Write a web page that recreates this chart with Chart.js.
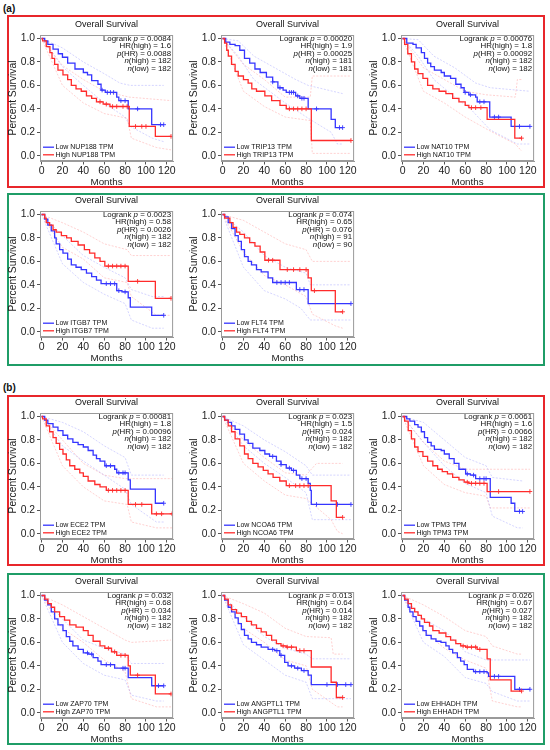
<!DOCTYPE html>
<html>
<head>
<meta charset="utf-8">
<script src="https://cdn.jsdelivr.net/npm/chart.js@4.4.0/dist/chart.umd.min.js"></script>
<style>
  body { margin: 0; width: 550px; height: 750px; background: #fff; position: relative; overflow: hidden; font-family: "Liberation Sans", Arial, sans-serif; }
  .box { position: absolute; border: 2px solid; box-sizing: border-box; }
  .red { border-color: #e8262b; }
  .green { border-color: #1f9d67; }
  .lbl { position: absolute; font-weight: bold; font-size: 10px; color: #111; }
  canvas { position: absolute; }
</style>
</head>
<body>
<div class="lbl" style="left:3px;top:3px">(a)</div>
<div class="box red" style="left:7px;top:15px;width:538px;height:173px"></div>
<div class="box green" style="left:7px;top:193px;width:538px;height:173px"></div>
<div class="lbl" style="left:3px;top:382px">(b)</div>
<div class="box red" style="left:7px;top:395px;width:538px;height:171px"></div>
<div class="box green" style="left:7px;top:573px;width:538px;height:172px"></div>

<script>
// ---- data ----
const genes    = ['NUP188', 'TRIP13', 'NAT10', 'ITGB7', 'FLT4', 'ECE2', 'NCOA6', 'TPM3', 'ZAP70', 'ANGPTL1', 'EHHADH'];
const logrankP = ['0.0084', '0.00020', '0.00076', '0.0023', '0.074', '0.00081', '0.023', '0.0061', '0.032', '0.013', '0.026'];
const hrHigh   = ['1.6', '1.9', '1.8', '0.58', '0.65', '1.8', '1.5', '1.6', '0.68', '0.64', '0.67'];
const pHR      = ['0.0088', '0.00025', '0.00092', '0.0026', '0.076', '0.00096', '0.024', '0.0066', '0.034', '0.014', '0.027'];
const nHigh    = [182, 181, 182, 182, 91, 182, 182, 182, 182, 182, 182];
const nLow     = [182, 181, 182, 182, 90, 182, 182, 182, 182, 182, 182];

const xTicks = [0, 20, 40, 60, 80, 100, 120];
const yTicks = [0, 0.2, 0.4, 0.6, 0.8, 1.0];

// survival steps [month, survival]
const nup188Low  = [[0,1],[3,0.98],[6,0.95],[11,0.91],[16,0.87],[20,0.84],[25,0.79],[32,0.74],[40,0.71],[44,0.69],[48,0.64],[54,0.61],[57,0.56],[61,0.54],[72,0.50],[74,0.47],[83,0.40],[105.5,0.265],[117,0.265]];
const nup188High = [[0,1],[1,0.98],[4.5,0.93],[8,0.88],[10,0.83],[12.5,0.78],[15.7,0.73],[20.5,0.69],[25,0.65],[28.5,0.60],[33,0.57],[38,0.55],[43,0.51],[48,0.49],[52.6,0.46],[59,0.44],[65.5,0.42],[84,0.25],[109,0.165],[124,0.165]];
const trip13Low  = [[0,1],[3,0.97],[7,0.95],[12,0.94],[16.5,0.90],[21,0.83],[26,0.79],[31,0.74],[36,0.71],[42,0.67],[48,0.63],[53,0.58],[58,0.56],[61,0.54],[70,0.51],[74,0.49],[82,0.40],[104,0.31],[108,0.24],[115,0.24]];
const trip13High = [[0,1],[2,0.96],[4,0.90],[5.5,0.85],[8.6,0.78],[12,0.72],[15,0.68],[20,0.65],[24.5,0.62],[28,0.57],[32.5,0.55],[40.5,0.51],[47,0.47],[55,0.43],[61,0.40],[85,0.13],[123,0.13]];
const nat10Low   = [[0,1],[4,0.96],[10,0.95],[13,0.92],[18,0.88],[21,0.83],[24,0.79],[27,0.76],[30.5,0.73],[37,0.71],[40,0.68],[46,0.66],[51,0.61],[56,0.58],[59,0.54],[63.5,0.52],[70,0.50],[71.5,0.46],[83.5,0.33],[104,0.25],[122,0.25]];
const nat10High  = [[0,1],[2,0.95],[5,0.87],[8.5,0.80],[11.6,0.74],[14.8,0.70],[19.5,0.66],[24,0.60],[29,0.57],[35,0.55],[41.5,0.53],[48,0.49],[54,0.46],[60,0.43],[63.5,0.41],[81,0.31],[107.5,0.15],[114,0.15]];
const itgb7Low   = [[0,1],[3,0.96],[6,0.91],[9.3,0.86],[12.5,0.80],[14,0.75],[17.3,0.70],[20.5,0.67],[25,0.62],[28.5,0.57],[33,0.55],[38,0.53],[43,0.50],[48,0.47],[52.6,0.44],[57,0.41],[72,0.35],[77,0.34],[83,0.29],[85,0.21],[105.5,0.14],[117,0.14]];
const itgb7High  = [[0,1],[3,0.97],[4.5,0.93],[7.7,0.91],[11,0.87],[14,0.85],[19,0.82],[24,0.80],[28.5,0.77],[35,0.74],[41,0.70],[46,0.67],[51,0.63],[56,0.60],[60.6,0.56],[83,0.43],[109,0.285],[124,0.285]];
const flt4Low    = [[0,1],[2,0.98],[5.4,0.93],[8.6,0.88],[12,0.82],[15,0.77],[18,0.70],[21,0.64],[24.5,0.60],[27.7,0.57],[32.5,0.53],[37,0.51],[43.6,0.46],[48,0.42],[70.7,0.36],[82,0.24],[123,0.24]];
const flt4High   = [[0,1],[2,0.97],[7,0.93],[10,0.89],[13.4,0.85],[16.5,0.83],[21,0.80],[26,0.76],[31,0.73],[36,0.68],[40.5,0.61],[55,0.53],[82,0.46],[85,0.35],[108,0.17],[115,0.17]];
const ece2Low    = [[0,1],[3,0.97],[6,0.94],[11,0.91],[15.7,0.88],[20.5,0.84],[25,0.81],[30,0.78],[35,0.76],[40,0.74],[44.6,0.71],[49.4,0.67],[52.6,0.64],[56,0.62],[60.6,0.58],[70,0.55],[72,0.52],[83,0.46],[85,0.38],[109,0.26],[117,0.26]];
const ece2High   = [[0,1],[1,0.98],[4.5,0.92],[7.7,0.87],[11,0.82],[14,0.77],[17.3,0.72],[20.5,0.68],[23.7,0.63],[27,0.58],[31.8,0.55],[36.6,0.52],[40,0.49],[44.6,0.45],[51,0.42],[56,0.40],[62,0.37],[83,0.25],[105.5,0.17],[125,0.17]];
const ncoa6Low   = [[0,1],[2,0.97],[5.4,0.95],[8.6,0.92],[12,0.89],[16.5,0.85],[21,0.80],[24.5,0.77],[29,0.73],[35.7,0.71],[40.5,0.68],[45,0.66],[51.6,0.62],[56,0.59],[61,0.56],[66,0.54],[70.7,0.50],[74,0.47],[82,0.43],[84,0.37],[85,0.25],[123,0.25]];
const ncoa6High  = [[0,1],[2,0.97],[5.4,0.92],[8.6,0.87],[12,0.81],[16.5,0.75],[21,0.68],[24.5,0.64],[29,0.60],[34,0.57],[39,0.54],[43.6,0.51],[48.4,0.48],[54.8,0.45],[61,0.41],[104,0.28],[109,0.14],[115,0.14]];
const tpm3Low    = [[0,1],[4,0.98],[7,0.96],[11.6,0.93],[14.8,0.91],[18,0.87],[21,0.82],[24,0.78],[27.4,0.75],[30.5,0.72],[37,0.71],[40,0.68],[44.7,0.64],[49.4,0.60],[54,0.55],[60.4,0.51],[65,0.50],[70,0.47],[84,0.31],[104,0.26],[107.5,0.19],[115,0.19]];
const tpm3High   = [[0,1],[2,0.96],[5.4,0.88],[8.5,0.81],[11.6,0.74],[14.8,0.70],[19.5,0.66],[24,0.62],[29,0.58],[33.6,0.55],[38,0.53],[43,0.51],[48,0.48],[54,0.46],[59,0.44],[63.5,0.43],[81,0.36],[122,0.36]];
const zap70Low   = [[0,1],[3,0.96],[6,0.92],[9.3,0.86],[12.5,0.80],[15.7,0.75],[20.5,0.70],[23.7,0.65],[27,0.61],[30,0.57],[35,0.54],[40,0.51],[44.6,0.50],[49.4,0.47],[54,0.44],[57,0.41],[70,0.38],[83,0.30],[105.5,0.23],[117,0.23]];
const zap70High  = [[0,1],[3,0.97],[6,0.93],[9.3,0.90],[12.5,0.86],[17.3,0.82],[22,0.79],[27,0.75],[33,0.73],[40,0.70],[44.6,0.66],[49.4,0.61],[56,0.57],[60.6,0.55],[67,0.52],[72,0.49],[83,0.40],[85,0.32],[109,0.16],[124,0.16]];
const angptl1Low = [[0,1],[2,0.96],[5.4,0.90],[8.6,0.86],[12,0.81],[15,0.76],[18,0.71],[21,0.66],[24.5,0.63],[27.7,0.60],[32.5,0.58],[37,0.56],[43.6,0.54],[50,0.53],[54.8,0.49],[59.5,0.43],[62.7,0.40],[69,0.38],[75.5,0.36],[82,0.32],[85,0.24],[123,0.24]];
const angptl1High= [[0,1],[2,0.97],[5.4,0.92],[8.6,0.88],[13.4,0.85],[18,0.82],[23,0.78],[27.7,0.75],[32.5,0.72],[37,0.69],[42,0.66],[47,0.62],[51.6,0.59],[56,0.57],[61,0.56],[70.7,0.53],[85,0.39],[104,0.26],[109,0.13],[115,0.13]];
const ehhadhLow  = [[0,1],[2,0.96],[5.3,0.90],[7,0.86],[10,0.82],[13,0.78],[16.4,0.74],[19.5,0.70],[22.6,0.66],[27.4,0.63],[32,0.61],[36.8,0.60],[41.5,0.57],[44.6,0.54],[48,0.51],[52.5,0.47],[55.6,0.44],[59,0.41],[62,0.37],[68,0.35],[81,0.34],[82.4,0.31],[107.5,0.20],[122,0.20]];
const ehhadhHigh = [[0,1],[2,0.97],[5.3,0.93],[8.5,0.89],[11.6,0.86],[14.8,0.83],[18,0.80],[21,0.77],[25.8,0.74],[29,0.70],[35,0.68],[41.5,0.65],[46,0.62],[51,0.59],[55.7,0.57],[60.4,0.56],[71.4,0.54],[81,0.46],[84,0.28],[104,0.185],[114,0.185]];

// censor marks (months)
const lowCensors  = [
  [58,63,66,69,76,80,92,114,117], [48,55,64,66,68,72,76,78,90,112,115], [60,65,74,78,88,92,112,122],
  [62,66,70,74,80,117], [52,56,60,64,74,78,123],
  [62,66,74,78,80,117], [48,56,64,68,76,80,90,110,123], [62,68,74,78,80,112,115],
  [44,48,62,66,78,80,112,117], [48,52,56,66,72,78,100,110,118,123], [70,74,78,88,92,112,122]
];
const highCensors = [
  [56,62,68,72,78,82,90,96,100,124], [64,68,72,76,80,123], [66,70,75,114],
  [64,68,72,76,80,92,124], [44,48,62,68,74,80,88,115],
  [64,68,72,76,80,90,96,110,115,125], [64,70,74,78,82,115], [62,66,70,74,78,92,122],
  [64,70,76,80,92,124], [58,62,66,74,78,115], [58,62,66,70,74,114]
];

// 95% confidence limits: [low upper, low lower, high upper, high lower]
const nup188Ci = [
  [[0,1],[20,0.92],[40,0.8],[60,0.7],[75,0.62],[85,0.6],[117,0.6]],
  [[0,1],[20,0.76],[40,0.6],[60,0.45],[80,0.33],[85,0.25],[106,0.15],[117,0.12]],
  [[0,1],[20,0.77],[40,0.65],[60,0.55],[84,0.5],[124,0.47]],
  [[0,1],[20,0.6],[40,0.45],[60,0.36],[82,0.32],[86,0.15],[110,0.07],[124,0.05]]
];
const trip13Ci = [
  [[0,1],[15,0.98],[30,0.85],[50,0.75],[70,0.65],[82,0.6],[115,0.53]],
  [[0,1],[15,0.85],[30,0.65],[45,0.55],[60,0.45],[82,0.32],[104,0.2],[110,0.1],[115,0.1]],
  [[0,1],[20,0.78],[40,0.65],[60,0.5],[84,0.5],[86,0.68],[123,0.68]],
  [[0,1],[20,0.55],[40,0.42],[60,0.33],[84,0.3],[86,0.02],[123,0.02]]
];
const nat10Ci = [
  [[0,1],[15,0.99],[30,0.85],[50,0.75],[70,0.62],[84,0.58],[122,0.55]],
  [[0,1],[15,0.85],[30,0.65],[50,0.5],[65,0.4],[84,0.22],[110,0.1],[122,0.1]],
  [[0,1],[20,0.75],[40,0.65],[60,0.55],[80,0.52],[108,0.5],[110,0.65],[114,0.65]],
  [[0,1],[20,0.55],[40,0.45],[60,0.33],[82,0.22],[108,0.1],[114,0.04]]
];
const itgb7Ci = [
  [[0,1],[20,0.82],[40,0.65],[60,0.55],[80,0.46],[86,0.36],[106,0.3],[117,0.3]],
  [[0,1],[20,0.58],[40,0.42],[60,0.32],[80,0.24],[86,0.1],[106,0.03],[117,0.03]],
  [[0,1],[20,0.93],[40,0.85],[60,0.75],[82,0.7],[86,0.65],[124,0.65]],
  [[0,1],[20,0.72],[40,0.62],[60,0.46],[82,0.42],[86,0.3],[110,0.14],[124,0.14]]
];
const flt4Ci = [
  [[0,1],[20,0.85],[40,0.65],[60,0.55],[80,0.5],[84,0.4],[123,0.4]],
  [[0,1],[20,0.55],[40,0.35],[60,0.28],[75,0.2],[84,0.1],[123,0.1]],
  [[0,1],[20,0.95],[40,0.85],[60,0.75],[80,0.7],[86,0.6],[123,0.6]],
  [[0,1],[20,0.68],[40,0.48],[60,0.4],[80,0.3],[86,0.15],[108,0.05],[115,0.03]]
];
const ece2Ci = [
  [[0,1],[20,0.95],[40,0.87],[60,0.75],[80,0.65],[86,0.5],[117,0.5]],
  [[0,1],[20,0.75],[40,0.62],[60,0.5],[80,0.38],[86,0.25],[110,0.1],[117,0.1]],
  [[0,1],[20,0.8],[40,0.6],[60,0.5],[80,0.47],[125,0.47]],
  [[0,1],[20,0.58],[40,0.4],[60,0.28],[82,0.25],[86,0.1],[110,0.05],[125,0.05]]
];
const ncoa6Ci = [
  [[0,1],[20,0.92],[40,0.8],[60,0.7],[80,0.58],[86,0.5],[123,0.5]],
  [[0,1],[20,0.75],[40,0.6],[60,0.48],[80,0.35],[86,0.12],[123,0.12]],
  [[0,1],[20,0.8],[40,0.65],[60,0.52],[80,0.5],[90,0.6],[115,0.6]],
  [[0,1],[20,0.6],[40,0.45],[60,0.33],[80,0.3],[104,0.12],[110,0.02],[115,0.0]]
];
const tpm3Ci = [
  [[0,1],[20,0.95],[40,0.8],[60,0.65],[80,0.58],[86,0.48],[115,0.45]],
  [[0,1],[20,0.78],[40,0.58],[60,0.43],[80,0.35],[86,0.15],[110,0.05],[115,0.05]],
  [[0,1],[20,0.78],[40,0.62],[60,0.55],[122,0.55]],
  [[0,1],[20,0.58],[40,0.42],[60,0.35],[80,0.32],[84,0.22],[122,0.22]]
];
const zap70Ci = [
  [[0,1],[20,0.8],[40,0.62],[60,0.55],[80,0.5],[86,0.42],[117,0.42]],
  [[0,1],[20,0.6],[40,0.42],[60,0.32],[80,0.28],[86,0.15],[110,0.1],[117,0.1]],
  [[0,1],[20,0.92],[40,0.82],[60,0.72],[80,0.62],[86,0.6],[124,0.62]],
  [[0,1],[20,0.72],[40,0.6],[60,0.45],[80,0.35],[86,0.12],[110,0.05],[124,0.05]]
];
const angptl1Ci = [
  [[0,1],[20,0.82],[40,0.65],[60,0.55],[80,0.5],[86,0.46],[123,0.46]],
  [[0,1],[20,0.58],[40,0.45],[60,0.32],[80,0.26],[86,0.12],[123,0.12]],
  [[0,1],[20,0.93],[40,0.85],[60,0.72],[80,0.65],[104,0.64],[106,0.5],[115,0.5]],
  [[0,1],[20,0.72],[40,0.6],[60,0.45],[80,0.4],[86,0.2],[110,0.05],[115,0.05]]
];
const ehhadhCi = [
  [[0,1],[20,0.8],[40,0.7],[60,0.52],[80,0.45],[122,0.45]],
  [[0,1],[20,0.6],[40,0.48],[60,0.3],[80,0.25],[86,0.18],[110,0.1],[122,0.1]],
  [[0,1],[20,0.92],[40,0.82],[60,0.7],[80,0.65],[86,0.57],[110,0.5],[114,0.5]],
  [[0,1],[20,0.7],[40,0.55],[60,0.45],[80,0.38],[86,0.1],[110,0.05],[114,0.05]]
];

const lowCurves  = [nup188Low, trip13Low, nat10Low, itgb7Low, flt4Low, ece2Low, ncoa6Low, tpm3Low, zap70Low, angptl1Low, ehhadhLow];
const highCurves = [nup188High, trip13High, nat10High, itgb7High, flt4High, ece2High, ncoa6High, tpm3High, zap70High, angptl1High, ehhadhHigh];
const ciBands    = [nup188Ci, trip13Ci, nat10Ci, itgb7Ci, flt4Ci, ece2Ci, ncoa6Ci, tpm3Ci, zap70Ci, angptl1Ci, ehhadhCi];

// ---- layout ----
const colLeft = [0, 181, 361];
const rowY10 = [38, 214.3, 416.7, 595.7];   // page y of survival = 1.0
const slots = [[0,0],[0,1],[0,2],[1,0],[1,1],[2,0],[2,1],[2,2],[3,0],[3,1],[3,2]];

const FONT = '"Liberation Sans", Arial, sans-serif';
const BLUE = '#3535ff', RED = '#ff2b2b';
const BLUE_CI = 'rgba(150,150,255,0.5)', RED_CI = 'rgba(255,140,140,0.5)';

const toXY = arr => arr.map(p => ({ x: p[0], y: p[1] }));
function survAt(curve, t) {
  let s = 1;
  curve.forEach(p => { if (p[0] <= t) s = p[1]; });
  return s;
}

function richRight(ctx, parts, x, y, size) {
  let w = 0;
  parts.forEach(p => { ctx.font = (p[1] ? 'italic ' : '') + size + 'px ' + FONT; w += ctx.measureText(p[0]).width; });
  let cx = x - w;
  parts.forEach(p => {
    ctx.font = (p[1] ? 'italic ' : '') + size + 'px ' + FONT;
    ctx.fillText(p[0], cx, y);
    cx += ctx.measureText(p[0]).width;
  });
}

const decoPlugin = {
  id: 'deco',
  afterDraw(chart, args, opts) {
    const i = opts.idx;
    const { ctx, chartArea: a } = chart;
    ctx.save();
    // frame
    ctx.strokeStyle = '#9a9a9a';
    ctx.lineWidth = 1;
    ctx.strokeRect(a.left + 0.5, a.top + 0.5, a.right - a.left - 1, a.bottom - a.top - 1);
    // panel title, centred over the plot
    ctx.fillStyle = '#111';
    ctx.textAlign = 'center';
    ctx.textBaseline = 'middle';
    ctx.font = '9px ' + FONT;
    ctx.fillText('Overall Survival', (a.left + a.right) / 2, a.top - 10);
    ctx.textAlign = 'left';
    // stats
    const lines = [
      [['Logrank ', 0], ['p', 1], [' = ' + logrankP[i], 0]],
      [['HR(high) = ' + hrHigh[i], 0]],
      [['p', 1], ['(HR) = ' + pHR[i], 0]],
      [['n', 1], ['(high) = ' + nHigh[i], 0]],
      [['n', 1], ['(low) = ' + nLow[i], 0]]
    ];
    lines.forEach((ln, k) => richRight(ctx, ln, a.right - 2, a.top + 3.8 + k * 7.4, 7.9));
    // legend
    const lx = a.left + 3, ly = a.top + 3.5 + 108.7;
    [[BLUE, 'Low ' + genes[i] + ' TPM'], [RED, 'High ' + genes[i] + ' TPM']].forEach((e, k) => {
      const yy = ly + k * 7.6;
      ctx.strokeStyle = e[0];
      ctx.lineWidth = 1.3;
      ctx.beginPath(); ctx.moveTo(lx, yy); ctx.lineTo(lx + 11, yy); ctx.stroke();
      ctx.fillStyle = '#111';
      ctx.font = '7px ' + FONT;
      ctx.fillText(e[1], lx + 12.5, yy + 0.3);
    });
    ctx.restore();
  }
};

function makePanel(i) {
  const [r, c] = slots[i];
  const canvas = document.createElement('canvas');
  const W = 178, H = 186;
  canvas.width = W; canvas.height = H;
  canvas.style.left = colLeft[c] + 'px';
  canvas.style.top = (rowY10[r] - 33.5) + 'px';
  canvas.style.width = W + 'px'; canvas.style.height = H + 'px';
  document.body.appendChild(canvas);

  const low = lowCurves[i], high = highCurves[i], ci = ciBands[i];
  const line = (data, color, w, dash) => ({
    type: 'line', data: toXY(data), borderColor: color, borderWidth: w, borderDash: dash || [],
    stepped: dash ? false : 'before', pointRadius: 0, fill: false
  });
  const cens = (times, curve, color) => ({
    type: 'line', data: times.map(t => ({ x: t, y: survAt(curve, t) })), showLine: false,
    pointStyle: 'cross', pointRadius: 2.3, pointBorderColor: color, pointBorderWidth: 0.9
  });

  new Chart(canvas, {
    type: 'line',
    data: {
      datasets: [
        line(high, RED, 1.3),
        cens(highCensors[i], high, RED),
        line(low, BLUE, 1.3),
        cens(lowCensors[i], low, BLUE),
        line(ci[0], BLUE_CI, 0.8, [2, 1.5]),
        line(ci[1], BLUE_CI, 0.8, [2, 1.5]),
        line(ci[2], RED_CI, 0.8, [2, 1.5]),
        line(ci[3], RED_CI, 0.8, [2, 1.5])
      ]
    },
    options: {
      responsive: false,
      animation: false,
      events: [],
      layout: { padding: { left: 0, right: 4, top: 30, bottom: 0 } },
      plugins: {
        legend: { display: false },
        tooltip: { enabled: false },
        deco: { idx: i }
      },
      scales: {
        x: {
          type: 'linear', min: -1.5, max: 126,
          afterFit: s => { s.height = 30; },
          afterBuildTicks: s => { s.ticks = xTicks.map(v => ({ value: v })); },
          grid: { drawOnChartArea: false, tickLength: 3.5, color: '#555' },
          border: { color: '#9a9a9a' },
          ticks: { padding: 0, color: '#222', font: { family: FONT, size: 10.5 }, maxRotation: 0, autoSkip: false, callback: v => String(v) },
          title: { display: true, text: 'Months', color: '#222', font: { family: FONT, size: 9.8 }, padding: { top: 0, bottom: 3 } }
        },
        y: {
          min: -0.045, max: 1.03,
          afterFit: s => { s.width = 40; },
          afterBuildTicks: s => { s.ticks = yTicks.map(v => ({ value: v })); },
          grid: { drawOnChartArea: false, tickLength: 3, color: '#555' },
          border: { color: '#9a9a9a' },
          ticks: { padding: 2, color: '#222', font: { family: FONT, size: 10.3 }, callback: v => v.toFixed(1) },
          title: { display: true, text: 'Percent Survival', color: '#222', font: { family: FONT, size: 10.3 }, padding: { top: 7, bottom: 0 } }
        }
      }
    },
    plugins: [decoPlugin]
  });
}

genes.forEach((g, i) => makePanel(i));
</script>
</body>
</html>
